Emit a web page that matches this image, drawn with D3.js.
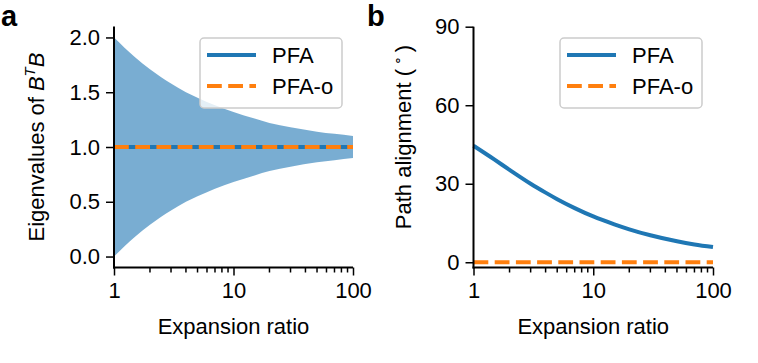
<!DOCTYPE html>
<html>
<head>
<meta charset="utf-8">
<script src="https://cdn.jsdelivr.net/npm/d3@7"></script>
<style>
  body { margin: 0; background: #fff; }
  text { font-family: "Liberation Sans", Arial, sans-serif; }
</style>
</head>
<body>
<div id="chart"></div>
<script>
// values
const ratio = [1, 1.5, 2, 3, 4, 5, 7, 10, 15, 20, 30, 50, 70, 100];
const eigUpper = [2.0, 1.82, 1.71, 1.58, 1.5, 1.45, 1.38, 1.32, 1.26, 1.22, 1.18, 1.14, 1.12, 1.10];
const eigLower = [0.0, 0.18, 0.29, 0.42, 0.5, 0.55, 0.62, 0.68, 0.74, 0.78, 0.82, 0.86, 0.88, 0.90];
const eigPFA = [1, 1, 1, 1, 1, 1, 1, 1, 1, 1, 1, 1, 1, 1];
const alignPFA = [44.5, 39.2, 35.3, 30, 26.6, 24.1, 20.7, 17.5, 14.5, 12.6, 10.3, 8.0, 6.8, 5.8];
const alignPFAo = [0, 0, 0, 0, 0, 0, 0, 0, 0, 0, 0, 0, 0, 0];
const xTicks = [1, 10, 100];
const eigTicks = [0, 0.5, 1, 1.5, 2];
const alignTicks = [0, 30, 60, 90];
const legendNames = ["PFA", "PFA-o"];

(function figure(){
let width = 758, height = 363,
  fontSize = 22,
  blue = "#1f77b4", orange = "#ff7f0e",
  lw = 4, dash = "14.8,6.4";

const svg = d3.select("#chart")
  .append("svg")
  .attr("width", width)
  .attr("height", height);

let minor = [];
[1, 10].forEach(d => { for (let k = 2; k < 10; k++) minor.push(d * k); });

const data = ratio.map((r, i) => ({r: r, lo: eigLower[i], hi: eigUpper[i], pfa: eigPFA[i], ang: alignPFA[i], ango: alignPFAo[i]}));

function axes(g, x, y, yTicks, yFmt) {
  // x axis with log minor ticks
  const xa = g.append("g")
    .attr("transform", `translate(0,${y.range()[0]})`)
    .call(d3.axisBottom(x).tickValues(xTicks).tickFormat(d3.format("d")).tickSize(8).tickPadding(7));
  xa.selectAll(".tick").data(minor, d => d).enter()
    .append("line")
    .attr("x1", d => x(d)).attr("x2", d => x(d))
    .attr("y1", 0).attr("y2", 5)
    .attr("stroke", "#000").attr("stroke-width", 1.5);
  const ya = g.append("g")
    .attr("transform", `translate(${x.range()[0]},0)`)
    .call(d3.axisLeft(y).tickValues(yTicks).tickFormat(yFmt).tickSize(8).tickPadding(6));
  [xa, ya].forEach(a => {
    a.selectAll(".tick line").attr("stroke-width", 1.5);
    a.selectAll("text").attr("font-size", fontSize).attr("fill", "#000")
      .style("font-family", "'Liberation Sans', Arial, sans-serif");
  });
  // spines drawn by hand so they end flush with the plot box
  xa.select(".domain").remove();
  ya.select(".domain").remove();
  g.append("line")
    .attr("x1", x.range()[0] - 1).attr("x2", x.range()[1])
    .attr("y1", y.range()[0]).attr("y2", y.range()[0])
    .attr("stroke", "#000").attr("stroke-width", 2);
  g.append("line")
    .attr("x1", x.range()[0]).attr("x2", x.range()[0])
    .attr("y1", y.range()[1]).attr("y2", y.range()[0] + 1)
    .attr("stroke", "#000").attr("stroke-width", 2);
  g.append("text")
    .attr("x", (x.range()[0] + x.range()[1]) / 2)
    .attr("y", 334)
    .attr("text-anchor", "middle")
    .attr("font-size", fontSize)
    .text("Expansion ratio");
}

function legend(g, x0, y0) {
  g.append("rect")
    .attr("x", x0).attr("y", y0)
    .attr("width", 142).attr("height", 70)
    .attr("rx", 4)
    .attr("fill", "#fff").attr("fill-opacity", 0.8)
    .attr("stroke", "#ccc").attr("stroke-width", 1.5);
  legendNames.forEach((name, i) => {
    let ly = y0 + 17 + i * 31;
    g.append("line")
      .attr("x1", x0 + 7).attr("x2", x0 + 56)
      .attr("y1", ly).attr("y2", ly)
      .attr("stroke", i == 0 ? blue : orange)
      .attr("stroke-width", lw)
      .attr("stroke-dasharray", i == 0 ? null : dash);
    g.append("text")
      .attr("x", x0 + 72).attr("y", ly + 8)
      .attr("font-size", fontSize)
      .text(name);
  });
}

// panel a
let xa = d3.scaleLog().domain([1, 100]).range([114, 353]);
let ya = d3.scaleLinear().domain([-0.1, 2.1]).range([267.5, 26.5]);
const ga = svg.append("g");

ga.append("path")
  .datum(data)
  .attr("fill", blue).attr("fill-opacity", 0.6)
  .attr("d", d3.area().curve(d3.curveMonotoneX)
    .x(d => xa(d.r)).y0(d => ya(d.lo)).y1(d => ya(d.hi)));

ga.append("path")
  .datum(data)
  .attr("fill", "none").attr("stroke", blue).attr("stroke-width", lw)
  .attr("d", d3.line().x(d => xa(d.r)).y(d => ya(d.pfa)));

ga.append("path")
  .datum(data)
  .attr("fill", "none").attr("stroke", orange).attr("stroke-width", lw)
  .attr("stroke-dasharray", dash)
  .attr("d", d3.line().x(d => xa(d.r)).y(d => ya(d.pfa)));

axes(ga, xa, ya, eigTicks, d3.format(".1f"));
legend(ga, 200, 38);

const yla = ga.append("text")
  .attr("transform", "translate(44,147) rotate(-90)")
  .attr("text-anchor", "middle")
  .attr("font-size", fontSize);
yla.append("tspan").text("Eigenvalues of ");
yla.append("tspan").attr("font-style", "italic").text("B");
yla.append("tspan").attr("font-style", "italic").attr("font-size", 15).attr("dy", -9).text("T");
yla.append("tspan").attr("font-style", "italic").attr("dy", 9).text("B");

// panel b
let xb = d3.scaleLog().domain([1, 100]).range([473.5, 713]);
let yb = d3.scaleLinear().domain([-2, 90]).range([267.5, 26.7]);
const gb = svg.append("g");

gb.append("path")
  .datum(data)
  .attr("fill", "none").attr("stroke", blue).attr("stroke-width", lw)
  .attr("d", d3.line().curve(d3.curveMonotoneX).x(d => xb(d.r)).y(d => yb(d.ang)));

gb.append("path")
  .datum(data)
  .attr("fill", "none").attr("stroke", orange).attr("stroke-width", lw)
  .attr("stroke-dasharray", dash)
  .attr("d", d3.line().x(d => xb(d.r)).y(d => yb(d.ango)));

axes(gb, xb, yb, alignTicks, d3.format("d"));
legend(gb, 560, 38);

const ylb = gb.append("text")
  .attr("transform", "translate(411,137) rotate(-90)")
  .attr("text-anchor", "middle")
  .attr("font-size", fontSize);
ylb.append("tspan").text("Path alignment (");
ylb.append("tspan").attr("font-size", 14).attr("dy", -9).text(" \u2218 ");
ylb.append("tspan").attr("dy", 9).text(")");

// panel letters
svg.append("text").attr("x", 1).attr("y", 26)
  .attr("font-size", 29).attr("font-weight", "bold").text("a");
svg.append("text").attr("x", 367).attr("y", 26)
  .attr("font-size", 29).attr("font-weight", "bold").text("b");
})();
</script>
</body>
</html>
